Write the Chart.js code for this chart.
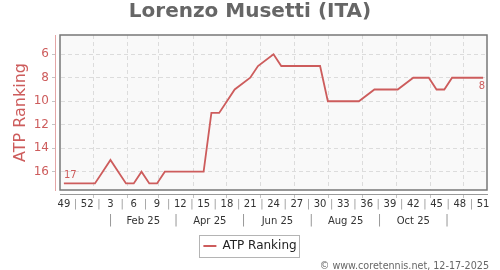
<!DOCTYPE html>
<html>
<head>
<meta charset="utf-8">
<script src="https://cdn.jsdelivr.net/npm/chart.js@4/dist/chart.umd.min.js"></script>
<style>
  html, body { margin: 0; padding: 0; background: #fff; }
</style>
</head>
<body>
<canvas id="rankChart" width="500" height="270"></canvas>
<script>
const playerName = "Lorenzo Musetti (ITA)";
const seriesName = "ATP Ranking";
const footerText = "© www.coretennis.net, 12-17-2025";

// one entry per ranking week, Dec 2024 -> Dec 2025
const weekNumbers = [49, 50, 51, 52, 1, 2, 3, 4, 5, 6, 7, 8, 9, 10, 11, 12, 13, 14, 15, 16, 17, 18, 19, 20,
  21, 22, 23, 24, 25, 26, 27, 28, 29, 30, 31, 32, 33, 34, 35, 36, 37, 38, 39, 40, 41, 42, 43, 44, 45, 46,
  47, 48, 49, 50, 51];
const ranking = [17, 17, 17, 17, 17, 16, 15, 16, 17, 17, 16, 17, 17, 16, 16, 16, 16, 16, 16, 11,
  11, 10, 9, null, 8, 7, null, 6, 7, 7, 7, 7, 7, 7, 10, 10, 10, 10, 10, null,
  9, 9, 9, 9, null, 8, 8, 8, 9, 9, 8, 8, 8, 8, 8];
const monthTickLabels = ["Feb 25", "Apr 25", "Jun 25", "Aug 25", "Oct 25"];
const rankTicks = [6, 8, 10, 12, 14, 16];

const red = "#cd5c5c";
const jan1Index = 3.79; // where 1 Jan 2025 falls on the week axis
const monthStartDays = [0, 31, 59, 90, 120, 151, 181, 212, 243, 273, 304, 334, 365];
const dayPos = d => jan1Index + d / 7;

Chart.defaults.font.family = "'DejaVu Sans', sans-serif";

function weekAxisTicks() {
  const ticks = [];
  weekNumbers.forEach((w, i) => {
    if (i % 3 === 0) ticks.push({ value: i, kind: "week", text: String(w) });
    if (i % 3 === 1 && i < weekNumbers.length - 2) ticks.push({ value: i + 0.5, kind: "sep", text: "|" });
  });
  monthStartDays.slice(0, 12).forEach(d => ticks.push({ value: dayPos(d), kind: "month", text: "" }));
  return ticks.sort((a, b) => a.value - b.value);
}

function monthAxisTicks() {
  const ticks = [];
  for (let m = 0; m < 11; m++) {
    const mid = dayPos((monthStartDays[m] + monthStartDays[m + 1]) / 2);
    if (m % 2 === 1) ticks.push({ value: mid, kind: "label", text: monthTickLabels[(m - 1) / 2] });
    else ticks.push({ value: mid, kind: "sep", text: "|" });
  }
  return ticks;
}

const spacer = (position, weight, size) => ({
  type: "linear",
  position,
  weight,
  grid: { drawOnChartArea: false, drawTicks: false },
  border: { display: false },
  ticks: { display: false },
  afterFit: s => {
    if (s.isHorizontal()) s.height = size; else s.width = size;
  }
});

const plotFrame = {
  id: "plotFrame",
  beforeDraw(chart) {
    const { ctx, chartArea: a } = chart;
    ctx.save();
    ctx.fillStyle = "#f9f9f9";
    ctx.fillRect(a.left, a.top, a.right - a.left, a.bottom - a.top);
    ctx.restore();
  },
  afterDraw(chart) {
    const { ctx, chartArea: a } = chart;
    ctx.save();
    ctx.strokeStyle = "#777";
    ctx.lineWidth = 1.5;
    ctx.strokeRect(a.left, a.top, a.right - a.left, a.bottom - a.top);

    // box round the legend
    const hb = chart.legend.legendHitBoxes[0];
    if (hb) {
      ctx.strokeStyle = "#b4b4b4";
      ctx.lineWidth = 1;
      ctx.strokeRect(Math.round(hb.left - 4) + 0.5, Math.round(hb.top - 5) + 0.5, Math.round(hb.width + 7), Math.round(hb.height + 10));
    }

    ctx.fillStyle = "#666";
    ctx.font = "9.6px 'DejaVu Sans'";
    ctx.textAlign = "right";
    ctx.textBaseline = "middle";
    ctx.fillText(footerText, 489, 266);
    ctx.restore();
  }
};

const endLabels = {
  id: "endLabels",
  afterDatasetsDraw(chart) {
    const pts = chart.getDatasetMeta(0).data;
    const first = pts[0];
    const last = pts[pts.length - 1];
    const ctx = chart.ctx;
    ctx.save();
    ctx.font = "10px 'DejaVu Sans'";
    ctx.fillStyle = red;
    ctx.textBaseline = "middle";
    ctx.textAlign = "left";
    ctx.fillText(String(ranking[0]), first.x, first.y - 8);
    ctx.textAlign = "right";
    ctx.fillText(String(ranking[ranking.length - 1]), last.x + 2, last.y + 9);
    ctx.restore();
  }
};

new Chart(document.getElementById("rankChart"), {
  type: "line",
  data: {
    datasets: [{
      label: seriesName,
      data: ranking.map((r, i) => ({ x: i, y: r })),
      borderColor: red,
      backgroundColor: red,
      borderWidth: 1.8,
      pointRadius: 0,
      tension: 0,
      spanGaps: true,
      fill: false
    }]
  },
  options: {
    responsive: false,
    animation: false,
    layout: { padding: { top: 0, left: 0, right: 0, bottom: 8 } },
    scales: {
      x: {
        type: "linear",
        position: "bottom",
        weight: 1,
        min: -0.5,
        max: weekNumbers.length - 0.5,
        afterBuildTicks: s => { s.ticks = weekAxisTicks(); },
        afterFit: s => { s.height = 17; },
        ticks: {
          autoSkip: false,
          maxRotation: 0,
          padding: 0,
          font: { size: 10 },
          color: c => (c.tick && c.tick.kind === "sep" ? "#999" : "#333"),
          callback: (v, i, ticks) => ticks[i].text
        },
        grid: {
          tickLength: 4,
          color: c => (c.tick && c.tick.kind === "month" ? "#dcdcdc" : "rgba(0,0,0,0)"),
          tickColor: c => (c.tick && c.tick.kind === "month" ? "#c4c4c4" : "rgba(0,0,0,0)")
        },
        border: { display: true, color: "#999", width: 1, dash: [4, 3] }
      },
      months: {
        type: "linear",
        position: "bottom",
        weight: 2,
        min: -0.5,
        max: weekNumbers.length - 0.5,
        afterBuildTicks: s => { s.ticks = monthAxisTicks(); },
        afterFit: s => { s.height = 19; },
        ticks: {
          autoSkip: false,
          maxRotation: 0,
          padding: 4,
          font: c => ({ size: c.tick && c.tick.kind === "sep" ? 12 : 10, lineHeight: "12px" }),
          color: c => (c.tick && c.tick.kind === "sep" ? "#999" : "#333"),
          callback: (v, i, ticks) => ticks[i].text
        },
        grid: { drawOnChartArea: false, drawTicks: false },
        border: { display: false }
      },
      xPad: spacer("bottom", 0, 4),
      y: {
        type: "linear",
        position: "left",
        weight: 1,
        reverse: true,
        min: 4.36,
        max: 17.56,
        afterBuildTicks: s => { s.ticks = rankTicks.map(v => ({ value: v })); },
        afterFit: s => { s.width = 55; },
        title: {
          display: true,
          text: seriesName,
          color: red,
          font: { size: 16 },
          padding: { top: 11, bottom: 0 }
        },
        ticks: { color: red, font: { size: 12 }, padding: 3 },
        grid: { color: "#dcdcdc", tickLength: 3, tickColor: "#c4c4c4" },
        border: { display: true, color: "rgba(205,92,92,0.55)", width: 1, dash: [4, 3] }
      },
      yPad: spacer("left", 0, 5),
      yRight: spacer("right", 0, 13)
    },
    plugins: {
      title: {
        display: true,
        text: playerName,
        color: "#666",
        font: { size: 20, weight: "bold" },
        padding: { top: 0, bottom: 11 }
      },
      legend: {
        position: "bottom",
        labels: {
          boxWidth: 13,
          boxHeight: 0,
          padding: 10,
          color: "#222",
          font: { size: 12 }
        }
      },
      tooltip: { enabled: false }
    }
  },
  plugins: [plotFrame, endLabels]
});
</script>
</body>
</html>
